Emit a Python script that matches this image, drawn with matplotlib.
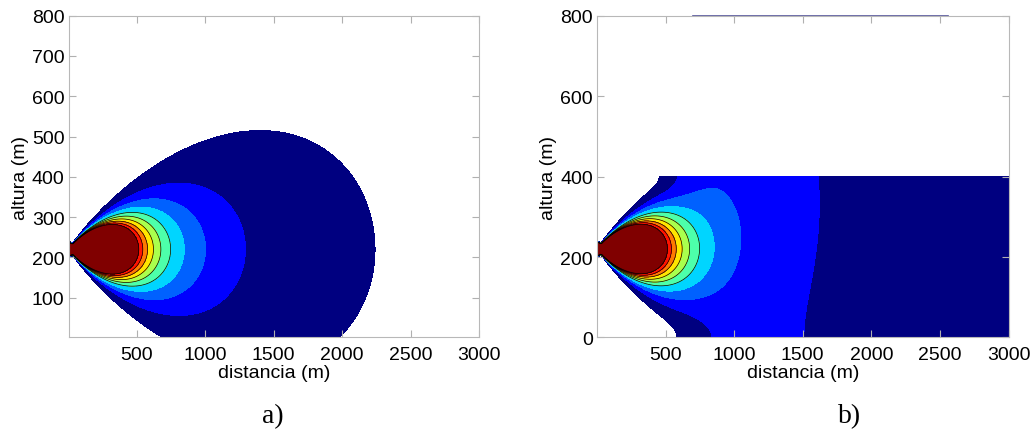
import numpy as np
import matplotlib
matplotlib.use("Agg")
import matplotlib.pyplot as plt

plt.rcParams['font.family'] = ['Liberation Sans', 'DejaVu Sans']

# plume parameters
stack_height = 220.0        # m, centre of the plume at the source
inversion_height = 400.0    # m, lid of the mixing layer in panel b)
outer_reach = 2240.0        # m, centreline distance where the lowest level is reached
sigma_coef = 0.0966         # sigma_z = coef * x**power
sigma_power = 1.064
sigma_floor = 4.0           # m, plume spread right at the stack
lid_reflection = 0.9        # share reflected back by the inversion
n_images = 4                # reflections used for panel b)

# contour levels (relative concentration), linear like MATLAB contourf
levels = [1, 3, 5, 7, 9, 11, 13, 15, 17, 19, 1e12]
line_levels = [9, 11, 13, 15, 17, 19]   # black outlines only show on the inner bands
band_colors = plt.cm.jet(np.linspace(0, 1, 10))

x_ticks = [500, 1000, 1500, 2000, 2500, 3000]
y_ticks_a = [100, 200, 300, 400, 500, 600, 700, 800]
y_ticks_b = [0, 200, 400, 600, 800]
top_artifact_x = [700, 2560]   # thin line along the top of panel b)

x = np.linspace(1, 3000, 800)
z_a = np.linspace(1, 800, 600)
z_b = np.linspace(0, inversion_height, 320)


def sigma(xx):
    return np.maximum(sigma_floor, sigma_coef * xx ** sigma_power)


def conc_free(xx, zz):
    s = sigma(xx)
    return (outer_reach / xx) ** 2 * np.exp(-(zz - stack_height) ** 2 / (2 * s ** 2))


def conc_layer(xx, zz):
    # ground reflects fully, the lid partly: image sources at +-H + 2nL
    s = sigma(xx)
    total = np.zeros_like(xx)
    for n in range(-n_images, n_images + 1):
        w = lid_reflection ** abs(n)
        for src in (stack_height, -stack_height):
            zc = src + 2 * n * inversion_height
            total += w * np.exp(-(zz - zc) ** 2 / (2 * s ** 2))
    return (outer_reach / xx) ** 2 * total


Xa, Za = np.meshgrid(x, z_a)
Xb, Zb = np.meshgrid(x, z_b)
Ca = conc_free(Xa, Za)
Cb = conc_layer(Xb, Zb)

fig = plt.figure(figsize=(10.34, 4.39), dpi=100)
ax1 = fig.add_axes([0.0663, 0.229, 0.397, 0.733])
ax2 = fig.add_axes([0.5774, 0.229, 0.398, 0.733])

for ax, X, Z, C in ((ax1, Xa, Za, Ca), (ax2, Xb, Zb, Cb)):
    ax.contourf(X, Z, C, levels=levels, colors=band_colors)
    ax.contour(X, Z, C, levels=line_levels, colors='black', linewidths=0.5)
    ax.set_xlim(1, 3000)
    ax.set_xticks(x_ticks)
    ax.set_xlabel('distancia (m)', fontsize=14, labelpad=1)
    ax.set_ylabel('altura (m)', fontsize=14, labelpad=2)
    ax.tick_params(direction='in', length=5, color='#b0b0b0', labelsize=14,
                   top=True, right=True, pad=3)
    ax.tick_params(axis='x', pad=6)
    for sp in ax.spines.values():
        sp.set_color('#b8b8b8')
        sp.set_linewidth(0.8)

ax1.set_ylim(1, 800)
ax1.set_yticks(y_ticks_a)
ax2.set_ylim(0, 800)
ax2.set_yticks(y_ticks_b)
ax2.plot(top_artifact_x, [800, 800], color='#50509a', lw=1.2, clip_on=False)

fig.text(0.264, 0.036, 'a)', fontsize=20, family='Liberation Serif', ha='center')
fig.text(0.822, 0.036, 'b)', fontsize=20, family='Liberation Serif', ha='center')

fig.savefig('out.png', dpi=100)
